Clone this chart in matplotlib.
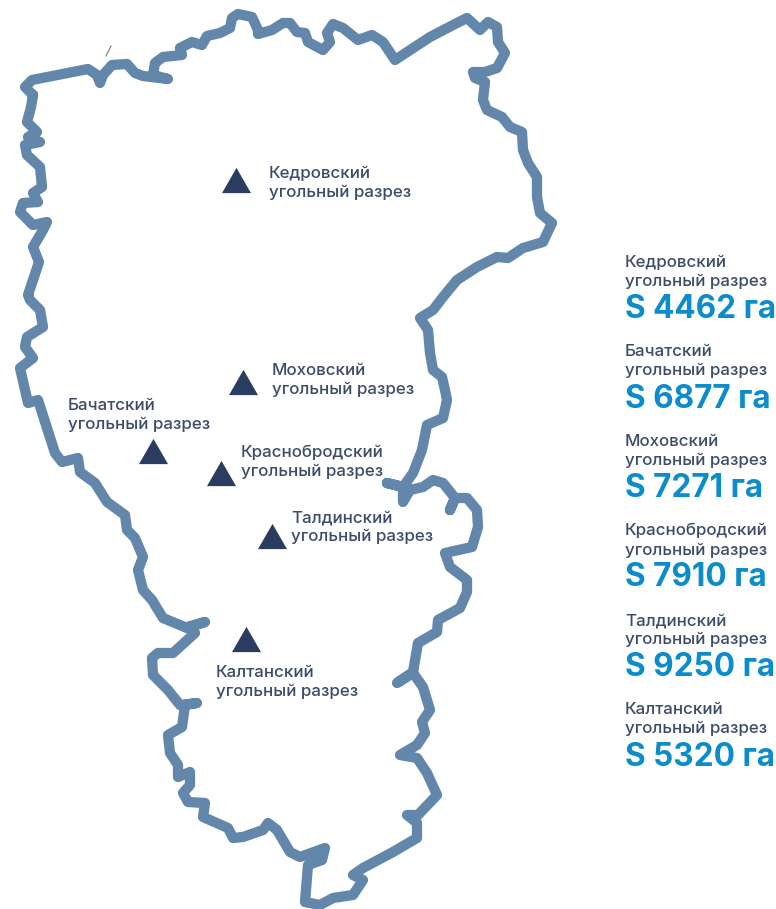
import matplotlib
matplotlib.use('Agg')
import matplotlib.pyplot as plt

plt.rcParams['font.family'] = ['Inter', 'DejaVu Sans']

# mines, in the order of the list on the right
names = ['Кедровский', 'Бачатский', 'Моховский', 'Краснобродский', 'Талдинский', 'Калтанский']
areas = [4462, 6877, 7271, 7910, 9250, 5320]

# triangle positions on the map (picture pixels)
mine_x = [236, 153, 243, 221, 272, 246]
mine_y = [179.5, 451, 382, 473, 536, 638.5]

# label position on the map: left edge, baseline of first line
label_x = [269, 68, 272, 241, 291, 216]
label_y = [178, 410, 375, 457, 522, 677]

# region border traced clockwise from the north-west corner
border = [
    (33, 95), (25, 87), (32, 80), (88, 69), (97, 75), (100, 83), (103, 75), (112, 65),
    (127, 64), (135, 73), (143, 76), (168, 79), (153, 75), (155, 63), (163, 57), (182, 55),
    (180, 48), (192, 42), (202, 45), (207, 36), (220, 33), (230, 28), (232, 18), (238, 14),
    (252, 17), (258, 30), (258, 34), (272, 30), (283, 23), (290, 23), (297, 32), (305, 33),
    (308, 42), (323, 50), (330, 42), (327, 33), (333, 24), (343, 28), (358, 40), (372, 35),
    (383, 42), (395, 60), (430, 37), (457, 23), (467, 18), (480, 30), (488, 22), (497, 27),
    (498, 42), (505, 53), (497, 68), (485, 72), (473, 72), (475, 78), (485, 82), (483, 100),
    (487, 110), (502, 117), (510, 127), (522, 132), (523, 150), (528, 163), (537, 177),
    (537, 197), (540, 213), (552, 223), (543, 242), (523, 248), (508, 258), (497, 257),
    (477, 267), (457, 280), (443, 297), (433, 310), (420, 318), (428, 330), (430, 353),
    (433, 370), (442, 377), (445, 390), (447, 400), (443, 418), (427, 425), (422, 450),
    (413, 473), (403, 487), (387, 483), (403, 487), (403, 502), (410, 490), (423, 487),
    (433, 480), (443, 483), (455, 498), (450, 510), (455, 498), (467, 498), (477, 510),
    (478, 527), (472, 547), (445, 553), (450, 567), (467, 580), (467, 592), (460, 608),
    (438, 620), (437, 632), (418, 643), (413, 672), (397, 683), (413, 673), (423, 687),
    (430, 710), (422, 722), (425, 733), (417, 745), (400, 755), (417, 758), (427, 773),
    (437, 795), (418, 815), (407, 815), (417, 823), (417, 838), (393, 852), (363, 868),
    (353, 875), (363, 880), (353, 895), (333, 898), (320, 905), (305, 902), (308, 865),
    (322, 860), (325, 848), (300, 857), (290, 852), (277, 830), (268, 823), (263, 830),
    (243, 837), (233, 838), (228, 828), (203, 817), (205, 803), (188, 802), (183, 793),
    (190, 785), (190, 772), (178, 777), (178, 765), (170, 753), (168, 735), (182, 727),
    (185, 705), (197, 703), (180, 705), (168, 690), (153, 675), (152, 658), (158, 653),
    (173, 653), (195, 633), (187, 627), (205, 622), (187, 628), (163, 618), (152, 600),
    (143, 590), (138, 570), (143, 557), (135, 538), (127, 530), (125, 515), (107, 502),
    (95, 483), (80, 472), (78, 458), (62, 462), (55, 453), (38, 400), (28, 403), (20, 368),
    (33, 358), (25, 347), (27, 337), (43, 327), (40, 310), (30, 300), (28, 295), (39, 262),
    (33, 247), (43, 230), (47, 222), (33, 225), (20, 212), (23, 203), (38, 202), (33, 193),
    (42, 187), (40, 167), (27, 155), (25, 145), (40, 142), (28, 137), (37, 132), (27, 122),
    (31, 107), (33, 95),
]
border_x = [p[0] for p in border]
border_y = [p[1] for p in border]

# stray speck above the border
speck_x = [106, 111]
speck_y = [56, 46]

dark = '#3d4b6b'
blue = '#0b8ccb'
label_size = 12.2

fig = plt.figure(figsize=(7.76, 9.09), dpi=100)
ax = fig.add_axes([0, 0, 1, 1])
ax.set_xlim(0, 776)
ax.set_ylim(909, 0)
ax.axis('off')

ax.plot(border_x, border_y, color='#6387aa', lw=7.4, solid_joinstyle='round', solid_capstyle='round')
ax.plot(speck_x, speck_y, color='#6b7c92', lw=0.8)

tri = [(0, 1), (-1.15, -1), (1.15, -1)]
ax.scatter(mine_x, mine_y, marker=tri, s=20.9 ** 2, color='#2a3c60', linewidths=0, zorder=3)

for name, x, y in zip(names, label_x, label_y):
    ax.text(x, y, name, fontsize=label_size, color=dark, fontweight='medium', va='baseline')
    ax.text(x, y + 19, 'угольный разрез', fontsize=label_size, color=dark, fontweight='medium', va='baseline')

# list on the right
for i, (name, area) in enumerate(zip(names, areas)):
    y = 267 + i * 89.5
    ax.text(625, y, name, fontsize=label_size, color=dark, fontweight='medium', va='baseline')
    ax.text(625, y + 19, 'угольный разрез', fontsize=label_size, color=dark, fontweight='medium', va='baseline')
    ax.text(625, y + 51, f'S {area} га', fontsize=22.7, color=blue, fontweight='bold', va='baseline')

fig.savefig('out.png', dpi=100)
